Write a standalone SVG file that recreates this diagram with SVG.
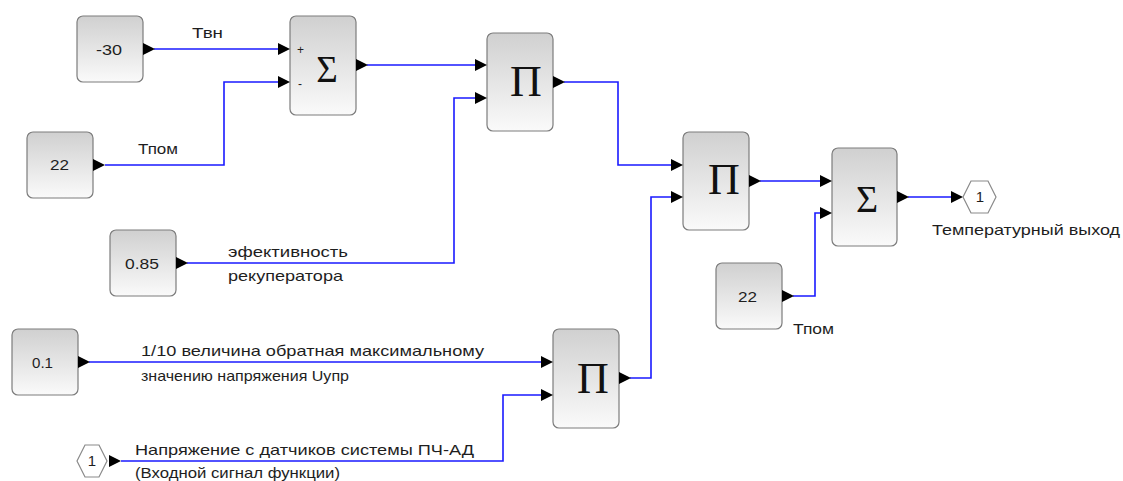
<svg xmlns="http://www.w3.org/2000/svg" xmlns:xlink="http://www.w3.org/1999/xlink" width="1123" height="481" viewBox="0 0 1123 481">
  <style>
    .blk { fill: url(#blkFill); stroke: #7c7c7c; stroke-width: 1.2; }
    .hex { fill: #ffffff; stroke: #8a8a8a; stroke-width: 1.2; }
    .num { font-family: "Liberation Sans", Arial, sans-serif; font-size: 15px; fill: #1e1e1e; }
    .lbl { font-family: "Liberation Sans", Arial, sans-serif; font-size: 15px; fill: #1e1e1e; }
    .sgn { font-family: "Liberation Sans", Arial, sans-serif; font-size: 12px; fill: #1e1e1e; }
    .sym { font-family: "Liberation Serif", "Times New Roman", serif; fill: #111111; text-anchor: middle; }
    .wire { fill: none; stroke: #1a1aff; stroke-width: 1.6; }
    .port { fill: #000000; }
  </style>
  <defs>
    <linearGradient id="blkFill" x1="0" y1="0" x2="0" y2="1">
      <stop offset="0" stop-color="#d0d0d0"/>
      <stop offset="1" stop-color="#fafafa"/>
    </linearGradient>
    <!-- port triangle: base at x=0, tip at x=12 -->
    <polygon id="port" class="port" points="0,-6 12,0 0,6"/>
  </defs>

  <rect width="1123" height="481" fill="#ffffff"/>

  <!-- connectors -->
  <g id="connectors">
    <polyline class="wire" points="154,49 278,49"/>
    <polyline class="wire" points="105,165 224,165 224,82 278,82"/>
    <polyline class="wire" points="367,65 475,65"/>
    <polyline class="wire" points="187,263 454,263 454,98 475,98"/>
    <polyline class="wire" points="564,82 618,82 618,165 671,165"/>
    <polyline class="wire" points="89,362 541,362"/>
    <polyline class="wire" points="121,461 503,461 503,395 541,395"/>
    <polyline class="wire" points="630,378 651,378 651,197 671,197"/>
    <polyline class="wire" points="760,181 820,181"/>
    <polyline class="wire" points="793,296 815,296 815,213 820,213"/>
    <polyline class="wire" points="908,197 951,197"/>
  </g>

  <!-- wire labels -->
  <g id="labels">
    <text class="lbl" x="192" y="38" textLength="31" lengthAdjust="spacingAndGlyphs">Твн</text>
    <text class="lbl" x="138" y="154" textLength="40" lengthAdjust="spacingAndGlyphs">Тпом</text>
    <text class="lbl" x="228" y="257" textLength="120" lengthAdjust="spacingAndGlyphs">эфективность</text>
    <text class="lbl" x="228" y="281" textLength="115" lengthAdjust="spacingAndGlyphs">рекуператора</text>
    <text class="lbl" x="141" y="356" textLength="343" lengthAdjust="spacingAndGlyphs">1/10 величина обратная максимальному</text>
    <text class="lbl" x="141" y="381" textLength="208" lengthAdjust="spacingAndGlyphs">значению напряжения Uупр</text>
    <text class="lbl" x="135" y="455" textLength="339" lengthAdjust="spacingAndGlyphs">Напряжение с датчиков системы ПЧ-АД</text>
    <text class="lbl" x="135" y="478" textLength="205" lengthAdjust="spacingAndGlyphs">(Входной сигнал функции)</text>
    <text class="lbl" x="793" y="334" textLength="41" lengthAdjust="spacingAndGlyphs">Тпом</text>
    <text class="lbl" x="932" y="235" textLength="188" lengthAdjust="spacingAndGlyphs">Температурный выход</text>
  </g>

  <!-- constant -30 -->
  <g id="const_m30">
    <rect class="blk" x="77" y="16" width="66" height="66" rx="6"/>
    <text class="num" x="96" y="55" textLength="26" lengthAdjust="spacingAndGlyphs">-30</text>
    <use xlink:href="#port" x="143" y="49"/>
  </g>

  <!-- constant 22 (room temperature) -->
  <g id="const_22a">
    <rect class="blk" x="27" y="132" width="66" height="66" rx="6"/>
    <text class="num" x="50" y="170" textLength="19" lengthAdjust="spacingAndGlyphs">22</text>
    <use xlink:href="#port" x="93" y="165"/>
  </g>

  <!-- constant 0.85 -->
  <g id="const_085">
    <rect class="blk" x="110" y="230" width="66" height="66" rx="6"/>
    <text class="num" x="125" y="269" textLength="34" lengthAdjust="spacingAndGlyphs">0.85</text>
    <use xlink:href="#port" x="176" y="263"/>
  </g>

  <!-- constant 0.1 -->
  <g id="const_01">
    <rect class="blk" x="12" y="329" width="66" height="66" rx="6"/>
    <text class="num" x="32" y="368" textLength="21" lengthAdjust="spacingAndGlyphs">0.1</text>
    <use xlink:href="#port" x="78" y="362"/>
  </g>

  <!-- input port 1 -->
  <g id="in_1">
    <polygon class="hex" points="77,461 85,445 99,445 107,461 99,477 85,477"/>
    <text class="num" x="92" y="466" text-anchor="middle">1</text>
    <use xlink:href="#port" x="109" y="461"/>
  </g>

  <!-- summation 1 -->
  <g id="sum_1">
    <rect class="blk" x="290" y="16" width="66" height="99" rx="6"/>
    <text class="sgn" x="297" y="54">+</text>
    <text class="sgn" x="298" y="88">-</text>
    <text class="sym" x="327" y="82" font-size="37">Σ</text>
    <use xlink:href="#port" x="278" y="49"/>
    <use xlink:href="#port" x="278" y="82"/>
    <use xlink:href="#port" x="356" y="65"/>
  </g>

  <!-- product 1 -->
  <g id="prod_1">
    <rect class="blk" x="487" y="33" width="66" height="98" rx="6"/>
    <text class="sym" x="526" y="96" font-size="44">Π</text>
    <use xlink:href="#port" x="475" y="65"/>
    <use xlink:href="#port" x="475" y="98"/>
    <use xlink:href="#port" x="553" y="82"/>
  </g>

  <!-- product 2 -->
  <g id="prod_2">
    <rect class="blk" x="683" y="132" width="66" height="98" rx="6"/>
    <text class="sym" x="724" y="194" font-size="44">Π</text>
    <use xlink:href="#port" x="671" y="165"/>
    <use xlink:href="#port" x="671" y="197"/>
    <use xlink:href="#port" x="749" y="181"/>
  </g>

  <!-- product 3 -->
  <g id="prod_3">
    <rect class="blk" x="553" y="329" width="66" height="99" rx="6"/>
    <text class="sym" x="593" y="393" font-size="44">Π</text>
    <use xlink:href="#port" x="541" y="362"/>
    <use xlink:href="#port" x="541" y="395"/>
    <use xlink:href="#port" x="619" y="378"/>
  </g>

  <!-- summation 2 -->
  <g id="sum_2">
    <rect class="blk" x="832" y="148" width="65" height="98" rx="6"/>
    <text class="sym" x="867" y="212" font-size="38">Σ</text>
    <use xlink:href="#port" x="820" y="181"/>
    <use xlink:href="#port" x="820" y="213"/>
    <use xlink:href="#port" x="897" y="197"/>
  </g>

  <!-- constant 22 (second) -->
  <g id="const_22b">
    <rect class="blk" x="716" y="263" width="66" height="66" rx="6"/>
    <text class="num" x="738" y="302" textLength="19" lengthAdjust="spacingAndGlyphs">22</text>
    <use xlink:href="#port" x="782" y="296"/>
  </g>

  <!-- output port 1 -->
  <g id="out_1">
    <use xlink:href="#port" x="951" y="197"/>
    <polygon class="hex" points="963,197 971,181 988,181 996,197 988,213 971,213"/>
    <text class="num" x="980" y="202" text-anchor="middle">1</text>
  </g>
</svg>
